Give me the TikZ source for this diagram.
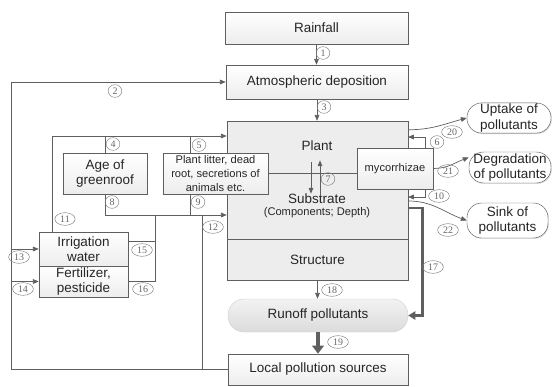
\documentclass[tikz,border=0pt]{standalone}
\usepackage{fontspec}
\setmainfont{Liberation Sans}
\newfontfamily\numfont{Liberation Serif}
\usetikzlibrary{arrows.meta, shapes.geometric, shadows}
\definecolor{linegray}{HTML}{5F5F5F}
\definecolor{boxgray}{HTML}{EDEDED}

\begin{document}
\begin{tikzpicture}[x=0.03cm, y=-0.03cm,
    box/.style={draw=linegray, top color=white, bottom color=boxgray, align=center, inner sep=1pt,
        drop shadow={opacity=.25, shadow xshift=.8pt, shadow yshift=-.8pt},
        text=black!85, font=\fontsize{11.5}{13}\selectfont},
    bigbox/.style={draw=linegray, fill=boxgray, text=black!85, font=\fontsize{11.5}{13}\selectfont,
        drop shadow={opacity=.2, shadow xshift=.8pt, shadow yshift=-.8pt}},
    small/.style={text=black!85, align=center, inner sep=1pt, font=\fontsize{9.5}{11.9}\selectfont},
    pill/.style={box, rounded corners=0.44cm, top color=white, bottom color=white},
    num/.style={ellipse, draw=gray, text=gray!80!black, inner xsep=2pt, inner ysep=0pt,
        minimum width=0.4cm, minimum height=0.38cm, font=\numfont\fontsize{8.5}{8.5}\selectfont},
    line/.style={draw=linegray, line width=0.6pt},
    arr/.style={line, -{Triangle[length=5pt, width=4pt]}},
    bigarr/.style={draw=linegray, line width=2.5pt, -{Triangle[length=6pt, width=7pt]}},
]
    \useasboundingbox (0,0) rectangle (553,386);

    % Inputs from above
    \node[box, minimum width=5.49cm, minimum height=0.96cm] (rain) at (316.5,28) {Rainfall};
    \node[box, minimum width=5.46cm, minimum height=1.02cm] (atmo) at (317,82) {Atmospheric deposition};

    % Green roof body
    \node[bigbox, minimum width=5.43cm, minimum height=3.54cm] (veg) at (317.5,180) {};
    \node[bigbox, minimum width=5.43cm, minimum height=1.23cm] (struct) at (317.5,259.5) {Structure};
    \node[text=black!85, inner sep=1pt, font=\fontsize{11.5}{13}\selectfont] (plant) at (317,146) {Plant};
    \node[text=black!85, inner sep=1pt, font=\fontsize{11.5}{13}\selectfont] (sub) at (317,199) {Substrate};
    \node[small] (comp) at (317,213) {(Components; Depth)};

    % Side factors
    \node[box, minimum width=2.52cm, minimum height=1.23cm] (age) at (105,173.5) {Age of\\greenroof};
    \node[box, small, draw=linegray, minimum width=3.15cm, minimum height=1.23cm] (litter) at (215.5,173.5)
        {Plant litter, dead\\root, secretions of\\animals etc.};
    \node[box, minimum width=2.67cm, minimum height=1.02cm] (irrig) at (83.5,249) {Irrigation\\water};
    \node[box, minimum width=2.67cm, minimum height=0.93cm] (fert) at (83.5,281.5) {Fertilizer,\\pesticide};

    % Plant / substrate divider and mycorrhizae
    \draw[line] (litter.east) -- (litter.east -| veg.east);
    \node[box, small, draw=linegray, minimum width=2.28cm, minimum height=1.23cm] (myco) at (395,168.5) {mycorrhizae};

    % Outputs
    \node[pill, minimum width=2.52cm, minimum height=0.9cm] (uptake) at (509,118) {Uptake of\\pollutants};
    \node[pill, minimum width=2.46cm, minimum height=0.93cm] (degr) at (510,167.5) {Degradation\\of pollutants};
    \node[pill, minimum width=2.43cm, minimum height=1.05cm] (sink) at (507.5,220.5) {Sink of\\pollutants};
    \node[draw=gray!35, top color=gray!10, bottom color=gray!28, rounded corners=0.48cm, text=black!85,
        font=\fontsize{11.5}{13}\selectfont, minimum width=5.4cm, minimum height=0.99cm] (runoff) at (318,315.5) {Runoff pollutants};
    \node[box, minimum width=5.4cm, minimum height=0.93cm] (local) at (318,369.5) {Local pollution sources};

    % Vertical flow
    \draw[arr] (rain.south) -- (rain.south |- atmo.north);
    \draw[arr] (atmo.south) -- (atmo.south |- veg.north);
    \draw[arr] ([shift={(-6,10)}]plant.south) -- ([shift={(-6,1)}]sub.north);
    \draw[arr] ([shift={(3,3)}]sub.north) -- ([shift={(3,8)}]plant.south);
    \draw[arr] (struct.south) -- (struct.south |- runoff.north);
    \draw[bigarr, line width=3.5pt, -{Triangle[length=7pt, width=10pt]}] (runoff.south) -- (runoff.south |- local.north);
    \draw[bigarr] ([yshift=-.84cm]veg.east) -- ++(14,0) |- (runoff.east);

    % Loop back from local pollution sources
    \coordinate (L) at (11,0);
    \coordinate (M) at (202,215);
    \draw[arr] (local.west) -- (local.west -| L) |- (atmo.west);
    \draw[arr] (irrig.west -| L) -- (irrig.west);
    \draw[arr] (fert.west -| L) -- (fert.west);
    \draw[line] (local.west -| M) -- (M);

    % Lower supply line
    \coordinate (K) at (155,215);
    \coordinate (P) at (190,136);
    \draw[arr] (age.south) |- (veg.west |- M);
    \draw[line] (litter.south -| P) -- (P |- M);
    \draw[line] ([yshift=.24cm]irrig.east) -| (K);
    \draw[line] (fert.east) -| (K);

    % Upper supply line
    \coordinate (N) at (52,136);
    \draw[arr] (irrig.north -| N) |- (veg.west |- N);
    \draw[line] (age.north) -- (age.north |- N);
    \draw[line] (litter.north -| P) -- (P);

    % Mycorrhizae feedback
    \coordinate (Q6) at (408,137);
    \coordinate (Q10) at (408,197);
    \draw[arr] ([xshift=-.24cm]myco.north east) |- (Q6);
    \draw[arr] ([xshift=-.24cm]myco.south east) |- (Q10);

    % Fate of pollutants
    \draw[arr] ([yshift=-.27cm]veg.north east) to[out=0, in=195] (uptake.west);
    \draw[arr] (myco.east) to[out=0, in=200] ([yshift=.3cm]degr.west);
    \draw[arr] ([yshift=-.63cm]veg.east) to[out=0, in=160] (sink.west);

    % Path numbers
    \foreach \n/\x/\y in {1/323/53, 2/115/91, 3/324/107, 4/113/144, 5/199/145, 6/437/142,
        7/328/179, 8/112/202, 9/198/202, 10/439/196, 11/65/219, 12/213/227, 13/19/257,
        14/23/289, 15/142/250, 16/143/289, 17/433/267, 18/332/290, 19/338/342,
        20/452/132, 21/448/171, 22/448/230}
        \node[num] (n\n) at (\x,\y) {\n};
\end{tikzpicture}
\end{document}
